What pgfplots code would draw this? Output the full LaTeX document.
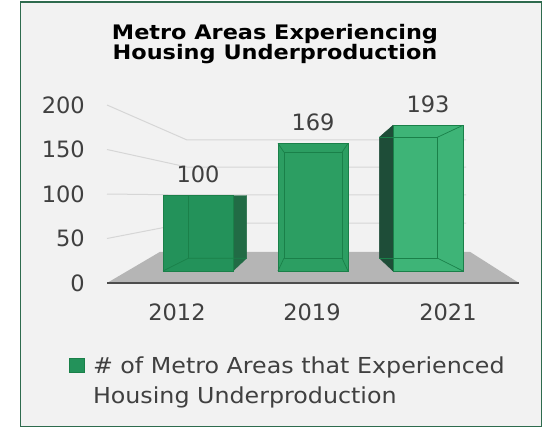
\documentclass[border=0pt]{standalone}
\usepackage{pgfplots}
\pgfplotsset{compat=1.18}
\usepackage{fontspec}
\setmainfont{DejaVu Sans}
\newfontfamily\wide[FakeStretch=1.08]{DejaVu Sans}
\newfontfamily\widebf[FakeStretch=1.12]{DejaVu Sans Bold}

\definecolor{bgc}{HTML}{F2F2F2}
\definecolor{framec}{HTML}{2E6B4E}
\definecolor{gridc}{HTML}{D6D6D6}
\definecolor{floorc}{HTML}{B5B5B5}
\definecolor{axisdark}{HTML}{4D4D4D}
\definecolor{txtc}{HTML}{404040}
\definecolor{barA}{HTML}{23925A}
\definecolor{barB}{HTML}{2C9E62}
\definecolor{barC}{HTML}{3EB477}
\definecolor{sideA}{HTML}{216B45}
\definecolor{sideC}{HTML}{1E4D38}
\definecolor{edgec}{HTML}{1A8049}

\begin{document}
\begin{tikzpicture}[x=1pt,y=1pt]
% canvas 543 x 429 px, 1pt = 1px
\fill[white] (0,0) rectangle (543,429);
\filldraw[fill=bgc, draw=framec, line width=1.5pt] (20.5,2.5) rectangle (541.5,427);
\useasboundingbox (0,0) rectangle (543,429);

\node[anchor=north, align=center, inner sep=0pt,
      font=\widebf\fontsize{20}{20}\selectfont] at (275,405)
  {Metro Areas Experiencing\\Housing Underproduction};

% front plane: ticks, walls, floor (x in px, y in values)
\begin{axis}[
  at={(107pt,146pt)}, anchor=south west,
  scale only axis, width=412pt, height=178pt,
  xmin=107, xmax=519, ymin=0, ymax=200,
  axis line style={draw=none},
  tick style={draw=none},
  ytick={0,50,100,150,200},
  xtick={177,312,448},
  xticklabels={2012,2019,2021},
  /pgf/number format/assume math mode=true,
  yticklabel style={font=\fontsize{22.5}{26}\selectfont, text=txtc,
                    inner sep=0pt, anchor=east, xshift=-22pt},
  xticklabel style={font=\fontsize{22.5}{26}\selectfont, text=txtc,
                    inner sep=0pt, anchor=north, yshift=-21pt},
  clip=false,
]
% back wall gridlines
\draw[gridc, line width=1pt] (axis cs:107,50)  -- (axis cs:187,67.4)  -- (axis cs:466,67.4);
\draw[gridc, line width=1pt] (axis cs:107,100) -- (axis cs:187,98.9)  -- (axis cs:466,98.9);
\draw[gridc, line width=1pt] (axis cs:107,150) -- (axis cs:187,130.3) -- (axis cs:466,130.3);
\draw[gridc, line width=1pt] (axis cs:107,200) -- (axis cs:187,160.7) -- (axis cs:466,160.7);
% floor
\addplot[fill=floorc, draw=none] coordinates {(107,0) (160,35) (470,35) (519,0)} -- cycle;
\draw[axisdark, line width=2pt] (axis cs:107,0) -- (axis cs:519,0);
\end{axis}

% bars (x in px, y in values; baseline 12px above the floor front)
\begin{axis}[
  at={(107pt,146pt)}, anchor=south west,
  scale only axis, width=412pt, height=178pt,
  xmin=107, xmax=519, ymin=-15.89, ymax=219.87,
  hide axis, clip=false,
  legend style={at={(axis cs:69,-110.4)}, anchor=north west,
                draw=none, fill=none, inner sep=0pt, column sep=6pt,
                font=\wide\fontsize{22}{30}\selectfont, text=txtc,
                cells={align=left, anchor=west}},
  legend image code/.code={\fill[barA, draw=edgec] (0pt,8.5pt) rectangle (15pt,22.5pt);},
]
% side faces
\addplot[fill=sideA, draw=sideA, forget plot] coordinates {(233,0) (246.6,17) (246.6,100) (233,100)} -- cycle;
\addplot[fill=sideC, draw=sideC, forget plot] coordinates {(393,0) (379.4,17) (379.4,177.2) (393,193)} -- cycle;

\addplot[ybar, bar width=70, bar shift=0pt, fill=barA, draw=edgec, line width=0.8pt,
         nodes near coords, nodes near coords style={font=\fontsize{22.5}{26}\selectfont,
         text=txtc, inner sep=0pt, anchor=base, yshift=13pt},
         point meta=explicit symbolic]
  coordinates {(198,100) [100]};
\addlegendentry{\# of Metro Areas that Experienced\\Housing Underproduction}
\addplot[ybar, bar width=70, bar shift=0pt, fill=barB, draw=edgec, line width=0.8pt,
         nodes near coords, nodes near coords style={font=\fontsize{22.5}{26}\selectfont,
         text=txtc, inner sep=0pt, anchor=base, yshift=13pt},
         point meta=explicit symbolic, forget plot]
  coordinates {(313,169) [169]};
\addplot[ybar, bar width=70, bar shift=0pt, fill=barC, draw=edgec, line width=0.8pt,
         nodes near coords, nodes near coords style={font=\fontsize{22.5}{26}\selectfont,
         text=txtc, inner sep=0pt, anchor=base, yshift=13pt},
         point meta=explicit symbolic, forget plot]
  coordinates {(428,193) [193]};

% inner (see-through) edges
\addplot[edgec, line width=0.7pt, forget plot] coordinates {(163,0) (188.5,17) (246.6,17)};
\addplot[edgec, line width=0.7pt, forget plot] coordinates {(188.5,17) (188.5,100)};
\addplot[edgec, line width=0.7pt, forget plot] coordinates {(283.95,17) (342.05,17) (342.05,157.3) (283.95,157.3) (283.95,17)};
\addplot[edgec, line width=0.7pt, forget plot] coordinates {(278,0) (283.95,17)};
\addplot[edgec, line width=0.7pt, forget plot] coordinates {(348,0) (342.05,17)};
\addplot[edgec, line width=0.7pt, forget plot] coordinates {(278,169) (283.95,157.3)};
\addplot[edgec, line width=0.7pt, forget plot] coordinates {(348,169) (342.05,157.3)};
\addplot[edgec, line width=0.7pt, forget plot] coordinates {(379.4,177.2) (437.5,177.2) (437.5,17) (379.4,17)};
\addplot[edgec, line width=0.7pt, forget plot] coordinates {(463,193) (437.5,177.2)};
\addplot[edgec, line width=0.7pt, forget plot] coordinates {(463,0) (437.5,17)};
\end{axis}
\end{tikzpicture}
\end{document}
